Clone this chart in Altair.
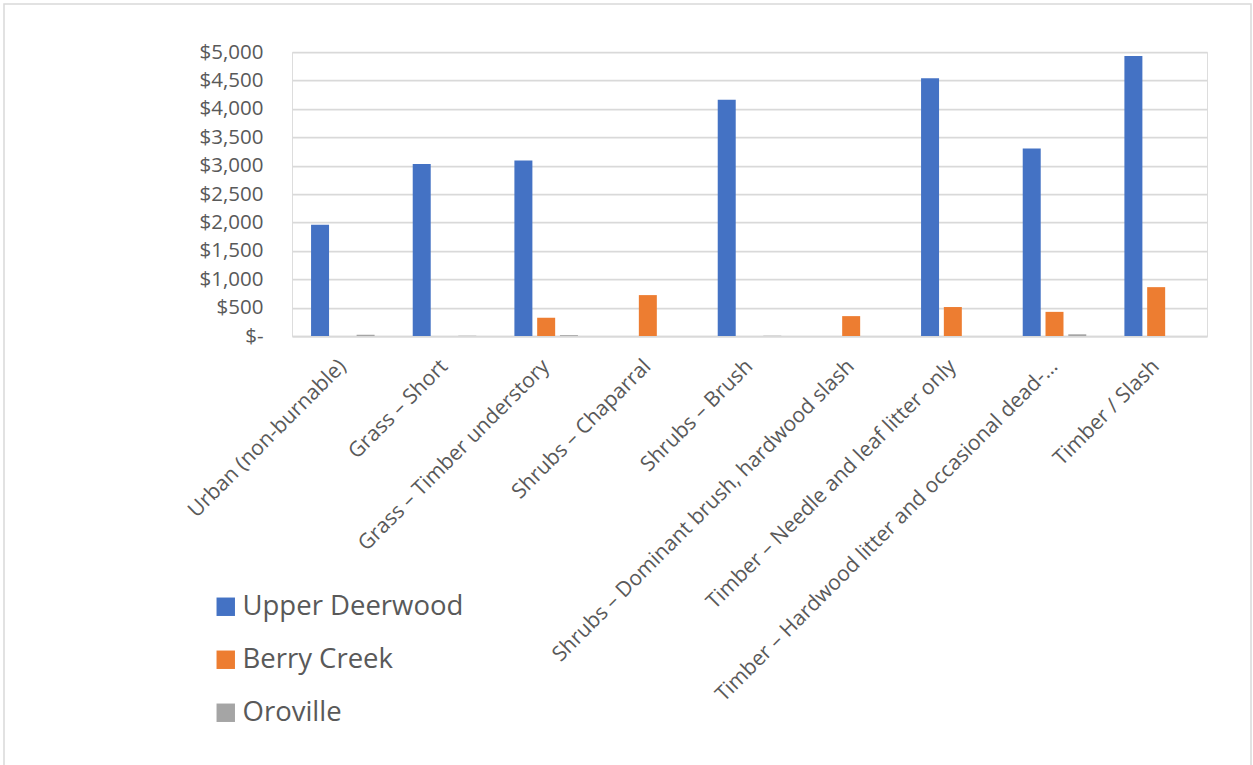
import altair as alt
import pandas as pd

# Fuel model categories along the x axis
categories = [
    "Urban (non-burnable)",
    "Grass – Short",
    "Grass – Timber understory",
    "Shrubs – Chaparral",
    "Shrubs – Brush",
    "Shrubs – Dominant brush, hardwood slash",
    "Timber – Needle and leaf litter only",
    "Timber – Hardwood litter and occasional dead-…",
    "Timber / Slash",
]

series = ["Upper Deerwood", "Berry Creek", "Oroville"]
colors = ["#4472C4", "#ED7D31", "#A5A5A5"]

upper_deerwood = [1960, 3030, 3090, 0, 4160, 0, 4540, 3300, 4930]
berry_creek = [0, 0, 320, 720, 0, 350, 510, 425, 860]
oroville = [20, 5, 15, 0, 5, 0, 0, 30, 0]

rows = []
for name, vals in zip(series, [upper_deerwood, berry_creek, oroville]):
    for cat, v in zip(categories, vals):
        rows.append({"category": cat, "series": name, "value": v})
df = pd.DataFrame(rows)

FONT = "Open Sans"
TEXT = "#595959"
GRID = "#D9D9D9"
W, H = 915, 284

bars = alt.Chart(df).mark_bar().encode(
    x=alt.X(
        "category:N",
        sort=categories,
        title=None,
        scale=alt.Scale(paddingInner=0.375, paddingOuter=0.1875),
        axis=alt.Axis(
            labelAngle=-45,
            labelAlign="right",
            labelBaseline="middle",
            labelPadding=27,
            labelFontSize=21,
            labelFont=FONT,
            labelColor=TEXT,
            labelLimit=1000,
            ticks=False,
            domainColor=GRID,
            domainWidth=1.75,
            grid=False,
        ),
    ),
    xOffset=alt.XOffset(
        "series:N", sort=series, scale=alt.Scale(paddingInner=0.21, paddingOuter=0)
    ),
    y=alt.Y(
        "value:Q",
        title=None,
        scale=alt.Scale(domain=[0, 5000], nice=False),
        axis=alt.Axis(
            values=list(range(0, 5001, 500)),
            labelExpr="datum.value == 0 ? '$-' : '$' + format(datum.value, ',')",
            labelFontSize=20.5,
            labelFont=FONT,
            labelColor=TEXT,
            labelPadding=29,
            ticks=False,
            domain=False,
            gridColor=GRID,
            gridWidth=1.75,
        ),
    ),
    color=alt.Color(
        "series:N",
        sort=series,
        scale=alt.Scale(domain=series, range=colors),
        legend=alt.Legend(
            title=None,
            orient="none",
            legendX=-80,
            legendY=541,
            direction="vertical",
            symbolType="square",
            symbolSize=340,
            symbolStrokeWidth=0,
            labelFontSize=27.5,
            labelFont=FONT,
            labelColor=TEXT,
            labelLimit=400,
            labelOffset=3,
            rowPadding=24,
            padding=0,
        ),
    ),
)

# Light frame around the whole chart
frame = alt.Chart(pd.DataFrame({"f": [0]})).mark_rect(
    fill=None, stroke=GRID, strokeWidth=1.5
).encode(
    x=alt.value(-288), x2=alt.value(959), y=alt.value(-48), y2=alt.value(730)
)

chart = alt.layer(frame, bars).properties(
    width=W,
    height=H,
    autosize=alt.AutoSizeParams(type="none"),
    padding={"left": 292, "top": 52, "right": 46, "bottom": 429},
).configure_view(stroke=None).configure(background="white")

chart.save("out.html", embed_options={"renderer": "svg", "actions": False})
